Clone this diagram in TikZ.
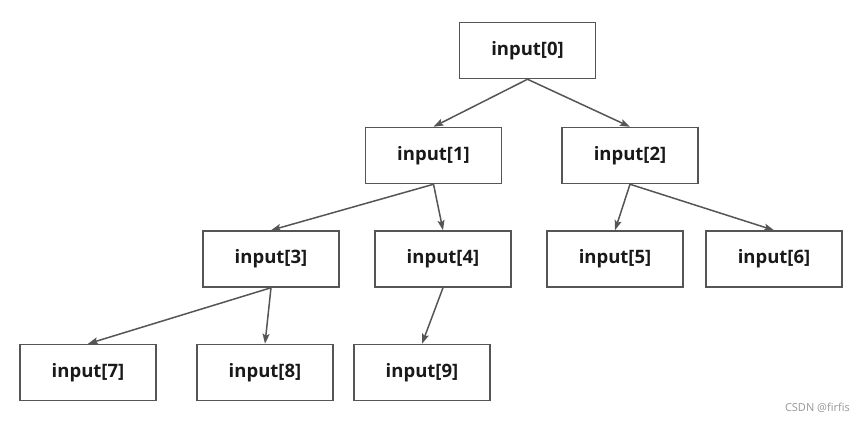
\documentclass[tikz,border=0pt]{standalone}
\usepackage{fontspec}
\setmainfont{Open Sans}
\usepackage{tikz}
\usetikzlibrary{arrows.meta, positioning}
\definecolor{boxgray}{RGB}{85,85,85}
\definecolor{markgray}{RGB}{150,150,150}

\begin{document}
\begin{tikzpicture}[
    x=1pt, y=-1pt,
    elem/.style={rectangle, minimum width=136pt, minimum height=56pt, draw=boxgray, line width=1.5pt, fill=white, font=\fontsize{18.5}{20}\selectfont\bfseries, text=black!90},
    arrow/.style={-{Stealth[length=10pt, width=7pt, inset=2pt]}, boxgray, line width=1.5pt}
]
\useasboundingbox (0,0) rectangle (865,421);

% Root
\node[elem] (in0) at (527.5,50.5) {input[0]};

% Level 1
\node[elem] (in1) at (433.5,155.5) {input[1]};
\node[elem] (in2) at (630,155.5) {input[2]};

% Level 2
\node[elem] (in3) at (271,259) {input[3]};
\node[elem] (in4) at (443,259) {input[4]};
\node[elem] (in5) at (615,259) {input[5]};
\node[elem] (in6) at (774,259) {input[6]};

% Level 3
\node[elem] (in7) at (88,372.5) {input[7]};
\node[elem] (in8) at (265,372.5) {input[8]};
\node[elem] (in9) at (422,372.5) {input[9]};

% Arrows
\draw[arrow] (in0.south) -- (in1.north);
\draw[arrow] (in0.south) -- (in2.north);
\draw[arrow] (in1.south) -- (in3.north);
\draw[arrow] (in1.south) -- (in4.north);
\draw[arrow] (in2.south) -- (in5.north);
\draw[arrow] (in2.south) -- (in6.north);
\draw[arrow] (in3.south) -- (in7.north);
\draw[arrow] (in3.south) -- (in8.north);
\draw[arrow] (in4.south) -- (in9.north);

% Watermark
\node[anchor=east, text=markgray, font=\fontsize{11}{13}\selectfont, inner sep=0pt] (mark) at (850,408) {CSDN @firfis};

\end{tikzpicture}
\end{document}
